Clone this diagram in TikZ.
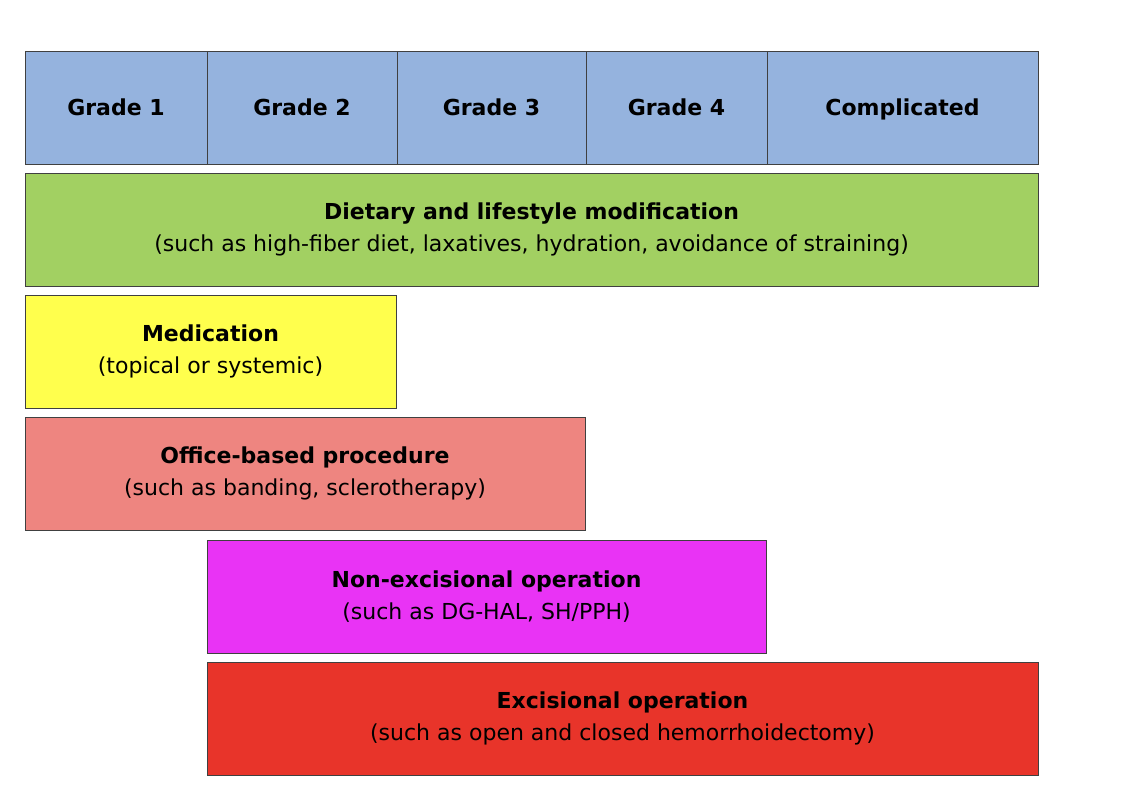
\documentclass[tikz,border=0pt]{standalone}
\usepackage{fontspec}
\setmainfont{DejaVu Sans}
\usetikzlibrary{positioning}

\definecolor{gradeblue}{HTML}{95B3DE}
\definecolor{dietgreen}{HTML}{A2D062}
\definecolor{medyellow}{HTML}{FFFF4D}
\definecolor{officepink}{HTML}{EE8580}
\definecolor{nonexmagenta}{HTML}{E933F5}
\definecolor{exred}{HTML}{E8342A}
\definecolor{edgegray}{HTML}{404040}

\begin{document}
\begin{tikzpicture}[
    x=1pt, y=1pt, node distance=9pt,
    cell/.style={draw=edgegray, line width=0.8pt, fill=gradeblue,
                 minimum height=113pt, inner sep=0pt, outer sep=0pt,
                 text height=21pt, text depth=5pt,
                 font=\fontsize{22}{26}\selectfont\bfseries},
    treat/.style={draw=edgegray, line width=0.8pt, minimum height=113pt,
                  inner sep=0pt, outer sep=0pt, align=center,
                  font=\fontsize{22}{32}\selectfont}
  ]
  \useasboundingbox (0,0) rectangle (1138,-804);

  % grade header
  \node[cell, anchor=north west, minimum width=182pt] (g1) at (25,-51) {Grade 1};
  \node[cell, minimum width=190pt, right=0pt of g1] (g2) {Grade 2};
  \node[cell, minimum width=189pt, right=0pt of g2] (g3) {Grade 3};
  \node[cell, minimum width=181pt, right=0pt of g3] (g4) {Grade 4};
  \node[cell, minimum width=271pt, right=0pt of g4] (comp) {Complicated};

  % treatments
  \node[treat, fill=dietgreen, minimum width=1013pt,
        below=9pt of g1.south west, anchor=north west] (diet)
        {\textbf{Dietary and lifestyle modification}\\
         (such as high-fiber diet, laxatives, hydration, avoidance of straining)};
  \node[treat, fill=medyellow, minimum width=371pt,
        below=9pt of diet.south west, anchor=north west] (med)
        {\textbf{Medication}\\(topical or systemic)};
  \node[treat, fill=officepink, minimum width=560pt,
        below=9pt of med.south west, anchor=north west] (office)
        {\textbf{Office-based procedure}\\(such as banding, sclerotherapy)};
  \coordinate (opstart) at (g2.west |- office.south);
  \node[treat, fill=nonexmagenta, minimum width=559pt,
        below=10pt of opstart, anchor=north west] (nonex)
        {\textbf{Non-excisional operation}\\(such as DG-HAL, SH/PPH)};
  \node[treat, fill=exred, minimum width=831pt,
        below=9pt of nonex.south west, anchor=north west] (excis)
        {\textbf{Excisional operation}\\(such as open and closed hemorrhoidectomy)};
\end{tikzpicture}
\end{document}
